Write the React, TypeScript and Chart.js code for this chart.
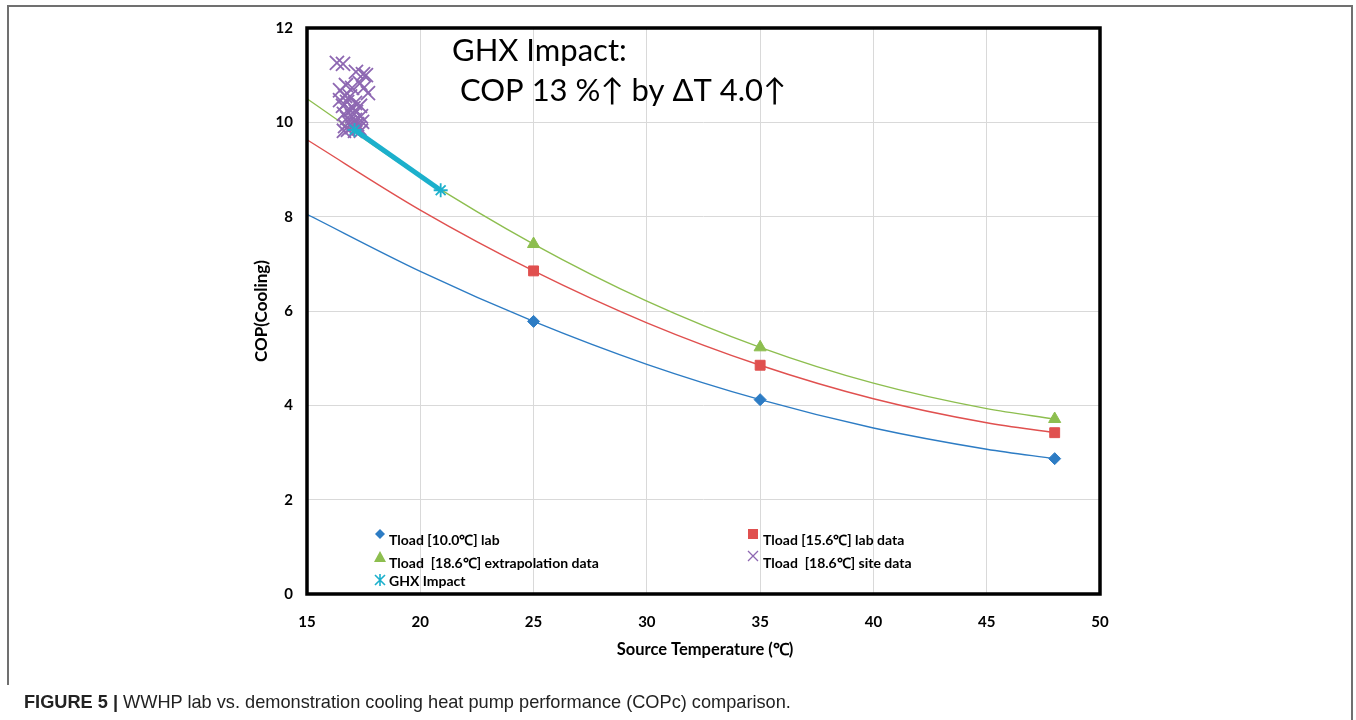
import React, { useEffect, useRef } from "react";
import { Chart, registerables } from "chart.js";

Chart.register(...registerables);

// ---- data ----
const xTickValues = [15, 20, 25, 30, 35, 40, 45, 50];
const yTickValues = [0, 2, 4, 6, 8, 10, 12];

const labTemps = [25, 35, 48];
const cop10Lab = [5.78, 4.12, 2.87];
const cop156Lab = [6.85, 4.85, 3.42];
const cop186Extra = [7.42, 5.23, 3.71];

// trend curves
const trendX = [15, 20, 25, 30, 35, 40, 45, 48];
const trend10 = [8.05, 6.84, 5.78, 4.87, 4.12, 3.52, 3.07, 2.87];
const trend156 = [9.63, 8.14, 6.85, 5.75, 4.85, 4.14, 3.63, 3.42];
const trend186 = [10.5, 8.85, 7.42, 6.21, 5.23, 4.47, 3.93, 3.71];

// site data (purple crosses)
const siteX = [16.32, 16.59, 17.16, 17.47, 17.6, 17.34, 16.99, 17.69, 16.68, 16.46, 16.77, 17.12, 17.34, 16.59, 16.9, 17.16, 16.63, 16.99, 17.38, 16.77, 17.12, 17.43, 16.85, 17.21, 16.68, 16.99, 17.3, 16.81, 17.12, 16.63, 17.38, 17.51, 16.72, 16.46, 16.9, 17.05];
const siteY = [11.26, 11.24, 11.07, 11.02, 11.0, 10.83, 10.73, 10.62, 10.56, 10.47, 10.43, 10.41, 10.35, 10.35, 10.26, 10.22, 10.18, 10.13, 10.13, 10.09, 10.05, 10.01, 9.99, 9.96, 9.92, 9.9, 9.88, 9.84, 9.82, 9.82, 9.82, 10.73, 10.79, 10.68, 10.55, 10.3];

// GHX impact line
const ghxX = [17.1, 20.9];
const ghxY = [9.84, 8.56];

const legendLabels = [
  "Tload [10.0℃] lab",
  "Tload [15.6℃] lab data",
  "Tload  [18.6℃] extrapolation data",
  "Tload  [18.6℃] site data",
  "GHX Impact",
];

const BLUE = "#2D7CC4";
const RED = "#E0504F";
const GREEN = "#8DBE4F";
const PURPLE = "#8E68B2";
const CYAN = "#1CB0CC";

const pts = (xs: number[], ys: number[]) => xs.map((x, i) => ({ x, y: ys[i] }));

function marker(ctx: CanvasRenderingContext2D, kind: string, x: number, y: number, color: string) {
  ctx.save();
  ctx.fillStyle = color;
  ctx.strokeStyle = color;
  ctx.beginPath();
  if (kind === "diamond") {
    const r = 5;
    ctx.moveTo(x, y - r); ctx.lineTo(x + r, y); ctx.lineTo(x, y + r); ctx.lineTo(x - r, y); ctx.closePath(); ctx.fill();
  } else if (kind === "square") {
    ctx.rect(x - 5, y - 5, 10, 10); ctx.fill();
  } else if (kind === "triangle") {
    ctx.moveTo(x, y - 6); ctx.lineTo(x + 6, y + 5); ctx.lineTo(x - 6, y + 5); ctx.closePath(); ctx.fill();
  } else if (kind === "cross") {
    ctx.lineWidth = 1.3;
    ctx.moveTo(x - 5, y - 5); ctx.lineTo(x + 5, y + 5); ctx.moveTo(x + 5, y - 5); ctx.lineTo(x - 5, y + 5); ctx.stroke();
  } else if (kind === "star") {
    ctx.lineWidth = 1.6;
    ctx.moveTo(x - 5, y - 5); ctx.lineTo(x + 5, y + 5); ctx.moveTo(x + 5, y - 5); ctx.lineTo(x - 5, y + 5);
    ctx.moveTo(x, y - 6); ctx.lineTo(x, y + 6); ctx.stroke();
  }
  ctx.restore();
}

const overlayPlugin = {
  id: "overlay",
  afterDraw(chart: any) {
    const { ctx, chartArea: a } = chart;
    ctx.save();
    ctx.strokeStyle = "#000";
    ctx.lineWidth = 3.5;
    ctx.strokeRect(a.left, a.top, a.right - a.left, a.bottom - a.top);

    ctx.fillStyle = "#000";
    ctx.textAlign = "center";
    ctx.textBaseline = "middle";
    ctx.font = "bold 16.5px Lato";
    ctx.fillText("Source Temperature (℃)", 705, 650);
    ctx.save();
    ctx.translate(262, 311);
    ctx.rotate(-Math.PI / 2);
    ctx.font = "bold 17px Lato";
    ctx.fillText("COP(Cooling)", 0, 0);
    ctx.restore();

    // annotation
    ctx.textAlign = "left";
    ctx.textBaseline = "alphabetic";
    ctx.font = "31px Lato";
    ctx.fillText("GHX Impact:", 452, 61);
    ctx.fillText("COP 13 %↑ by ΔT 4.0↑", 460, 101);

    // legend
    ctx.font = "bold 14px Lato";
    ctx.textBaseline = "middle";
    const rows = [
      { kind: "diamond", color: BLUE, mx: 380, my: 534, tx: 389, ty: 540, t: legendLabels[0] },
      { kind: "square", color: RED, mx: 753, my: 534, tx: 763, ty: 540, t: legendLabels[1] },
      { kind: "triangle", color: GREEN, mx: 380, my: 557, tx: 389, ty: 563, t: legendLabels[2] },
      { kind: "cross", color: PURPLE, mx: 753, my: 556, tx: 763, ty: 563, t: legendLabels[3] },
      { kind: "star", color: CYAN, mx: 380, my: 580, tx: 389, ty: 581, t: legendLabels[4] },
    ];
    for (const r of rows) {
      marker(ctx, r.kind, r.mx, r.my, r.color);
      ctx.fillStyle = "#000";
      ctx.fillText(r.t, r.tx, r.ty);
    }
    ctx.restore();
  },
};

export default function App() {
  const ref = useRef<HTMLCanvasElement | null>(null);

  useEffect(() => {
    if (!ref.current) return;
    const curve = (ys: number[], color: string, order: number) => ({
      type: "line" as const,
      data: pts(trendX, ys),
      borderColor: color,
      borderWidth: 1.4,
      pointRadius: 0,
      showLine: true,
      cubicInterpolationMode: "monotone" as const,
      fill: false,
      order,
    });
    const chart = new Chart(ref.current, {
      type: "scatter",
      data: {
        datasets: [
          // lower "order" is drawn on top
          {
            type: "line",
            label: legendLabels[4],
            data: pts(ghxX, ghxY),
            showLine: true,
            borderColor: CYAN,
            backgroundColor: CYAN,
            borderWidth: 5,
            pointStyle: "star",
            pointRadius: 7,
            pointBorderWidth: 1.8,
            fill: false,
            order: 0,
          },
          {
            label: legendLabels[0],
            data: pts(labTemps, cop10Lab),
            pointStyle: "rectRot",
            pointRadius: 6,
            borderColor: BLUE,
            backgroundColor: BLUE,
            order: 1,
          },
          {
            label: legendLabels[1],
            data: pts(labTemps, cop156Lab),
            pointStyle: "rect",
            pointRadius: 7,
            borderColor: RED,
            backgroundColor: RED,
            order: 2,
          },
          {
            label: legendLabels[2],
            data: pts(labTemps, cop186Extra),
            pointStyle: "triangle",
            pointRadius: 7,
            borderColor: GREEN,
            backgroundColor: GREEN,
            order: 3,
          },
          {
            label: legendLabels[3],
            data: pts(siteX, siteY),
            pointStyle: "crossRot",
            pointRadius: 10,
            borderColor: PURPLE,
            pointBorderWidth: 1.8,
            backgroundColor: PURPLE,
            order: 4,
          },
          curve(trend186, GREEN, 5),
          curve(trend156, RED, 6),
          curve(trend10, BLUE, 7),
        ],
      } as any,
      options: {
        responsive: false,
        animation: false,
        layout: { padding: { left: 0, right: 256, top: 28, bottom: 0 } },
        plugins: { legend: { display: false }, tooltip: { enabled: false }, title: { display: false } },
        scales: {
          x: {
            type: "linear",
            min: 15,
            max: 50,
            afterBuildTicks: (s: any) => { s.ticks = xTickValues.map((v) => ({ value: v })); },
            afterFit: (s: any) => { s.height = 126; },
            grid: { color: "#d9d9d9", lineWidth: 1, drawTicks: false },
            border: { display: false },
            ticks: { color: "#000", padding: 19, font: { family: "Lato", weight: "bold", size: 15 } },
          },
          y: {
            type: "linear",
            min: 0,
            max: 12,
            afterBuildTicks: (s: any) => { s.ticks = yTickValues.map((v) => ({ value: v })); },
            afterFit: (s: any) => { s.width = 307; },
            grid: { color: "#d9d9d9", lineWidth: 1, drawTicks: false },
            border: { display: false },
            ticks: { color: "#000", padding: 14, font: { family: "Lato", weight: "bold", size: 15 } },
          },
        },
      } as any,
      plugins: [overlayPlugin],
    });
    return () => chart.destroy();
  }, []);

  return (
    <div style={{ position: "absolute", left: 0, top: 0, width: 1356, height: 720, background: "#fff", overflow: "hidden" }}>
      <canvas ref={ref} width={1356} height={720} style={{ position: "absolute", left: 0, top: 0 }} />
      <div style={{ position: "absolute", left: 8, top: 5, width: 1344, height: 0, borderTop: "2px solid #707070" }} />
      <div style={{ position: "absolute", left: 7, top: 5, width: 0, height: 680, borderLeft: "2px solid #707070" }} />
      <div style={{ position: "absolute", left: 1351, top: 5, width: 0, height: 715, borderLeft: "2px solid #707070" }} />
      <div
        style={{
          position: "absolute",
          left: 24,
          top: 692,
          fontFamily: "'Liberation Sans', Arial, sans-serif",
          fontSize: 18.2,
          color: "#222",
          whiteSpace: "nowrap",
        }}
      >
        <b>FIGURE 5 |</b> WWHP lab vs. demonstration cooling heat pump performance (COPc) comparison.
      </div>
    </div>
  );
}
